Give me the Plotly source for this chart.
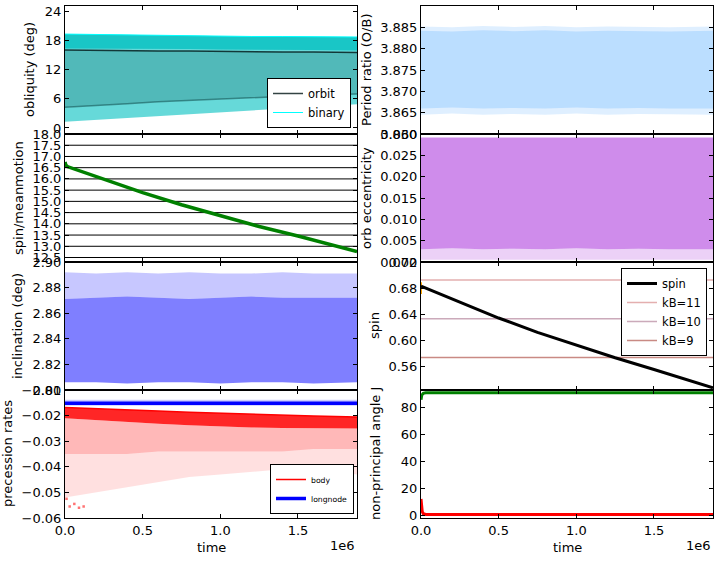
import plotly.graph_objects as go

FONT = "DejaVu Sans"

# ---- data ----
T_END = 1.88e6
T = [0, 2e5, 4e5, 6e5, 8e5, 1.0e6, 1.2e6, 1.4e6, 1.6e6, 1.88e6]
x_ticks = [0, 0.5e6, 1.0e6, 1.5e6]
x_ticktext = ["0.0", "0.5", "1.0", "1.5"]

# obliquity (deg): envelopes of the oscillating clouds
binary_hi = [19.4, 19.3, 19.2, 19.1, 19.0, 19.0, 18.9, 18.9, 18.8, 18.8]
binary_core = [16.4, 16.4, 16.3, 16.3, 16.3, 16.2, 16.2, 16.1, 16.1, 16.0]
binary_lo = [1.3, 1.7, 2.1, 2.5, 2.9, 3.2, 3.6, 4.0, 4.4, 4.9]
orbit_hi = [16.1, 16.0, 16.0, 15.9, 15.9, 15.8, 15.8, 15.7, 15.7, 15.6]
orbit_lo = [4.3, 4.6, 5.0, 5.4, 5.7, 6.0, 6.3, 6.6, 6.8, 7.0]

# spin/meanmotion
sm_t = [0, 5e3, 1.5e4, 2.5e5, 5e5, 7.5e5, 1.0e6, 1.25e6, 1.5e6, 1.75e6, 1.88e6]
sm_v = [16.75, 16.62, 16.55, 15.97, 15.39, 14.85, 14.35, 13.88, 13.46, 13.0, 12.76]
mm_levels = [12.5, 13.0, 13.5, 14.0, 14.5, 15.0, 15.5, 16.0, 16.5, 17.0, 17.5, 18.0]

# inclination (deg)
incl_lo = [2.806, 2.806, 2.805, 2.806, 2.806, 2.805, 2.806, 2.806, 2.805, 2.806]
incl_core = [2.871, 2.872, 2.873, 2.872, 2.871, 2.872, 2.873, 2.872, 2.872, 2.872]
incl_hi = [2.892, 2.891, 2.892, 2.891, 2.892, 2.891, 2.891, 2.892, 2.891, 2.891]

# precession rates
node_mid = [-0.0152, -0.0152, -0.0152, -0.0152, -0.0152, -0.0152, -0.0152, -0.0152, -0.0152, -0.0152]
node_hi = [-0.0138, -0.0138, -0.0138, -0.0138, -0.0138, -0.0138, -0.0138, -0.0138, -0.0138, -0.0138]
node_lo = [-0.0162, -0.0162, -0.0162, -0.0162, -0.0162, -0.0162, -0.0162, -0.0162, -0.0162, -0.0162]
body_hi = [-0.0168, -0.0172, -0.0177, -0.0182, -0.0187, -0.0191, -0.0195, -0.0199, -0.0202, -0.0205]
body_core = [-0.0210, -0.0218, -0.0225, -0.0232, -0.0238, -0.0243, -0.0246, -0.0248, -0.0249, -0.0250]
body_mid = [-0.035, -0.035, -0.035, -0.034, -0.034, -0.034, -0.034, -0.034, -0.033, -0.033]
body_lo = [-0.052, -0.050, -0.048, -0.046, -0.044, -0.043, -0.042, -0.041, -0.041, -0.043]
body_out_t = [1e4, 3e4, 6e4, 9e4, 1.2e5]
body_out_v = [-0.0525, -0.0555, -0.0545, -0.0560, -0.0555]

# period ratio (O/B)
pr_lo = [3.8645, 3.8648, 3.8645, 3.8647, 3.8645, 3.8648, 3.8645, 3.8647, 3.8646, 3.8645]
pr_core_lo = [3.8660, 3.8662, 3.8660, 3.8661, 3.8660, 3.8662, 3.8660, 3.8661, 3.8660, 3.8660]
pr_core_hi = [3.8842, 3.8840, 3.8843, 3.8841, 3.8843, 3.8840, 3.8842, 3.8841, 3.8840, 3.8842]
pr_hi = [3.8852, 3.8850, 3.8853, 3.8851, 3.8853, 3.8850, 3.8852, 3.8851, 3.8850, 3.8852]

# orb eccentricity
ecc_lo = [0.0005, 0.0005, 0.0005, 0.0005, 0.0005, 0.0005, 0.0005, 0.0005, 0.0005, 0.0005]
ecc_core = [0.0030, 0.0032, 0.0030, 0.0031, 0.0030, 0.0032, 0.0030, 0.0031, 0.0030, 0.0030]
ecc_hi = [0.0292, 0.0292, 0.0292, 0.0292, 0.0292, 0.0292, 0.0292, 0.0292, 0.0292, 0.0292]

# spin
spin_t = [0, 2.5e5, 5e5, 7.5e5, 1.0e6, 1.25e6, 1.5e6, 1.75e6, 1.88e6]
spin_v = [0.683, 0.658, 0.634, 0.612, 0.592, 0.573, 0.555, 0.537, 0.527]
spin0_t = [0, 0]
spin0_v = [0.671, 0.689]
kB_names = ["kB=11", "kB=10", "kB=9"]
kB_levels = [0.6922, 0.6328, 0.5735]
kB_colors = ["rgba(205,110,110,0.55)", "rgba(160,100,130,0.55)", "rgba(165,60,50,0.6)"]

# non-principal angle J
jg_t = [0, 5e3, 1.5e4, 3e4, 1.88e6]
jg_v = [86.0, 89.5, 90.8, 91.2, 91.2]
jr_t = [0, 3e3, 8e3, 1.5e4, 3e4, 1.88e6]
jr_v = [12.0, 6.0, 2.5, 1.0, 0.4, 0.4]

fig = go.Figure()


def ax(n):
    return ("x" if n == 1 else "x%d" % n), ("y" if n == 1 else "y%d" % n)


def band(t, lo, hi, color, n):
    xa, ya = ax(n)
    fig.add_trace(go.Scatter(x=t, y=lo, mode="lines", line=dict(width=0, color=color),
                             showlegend=False, hoverinfo="skip", xaxis=xa, yaxis=ya))
    fig.add_trace(go.Scatter(x=t, y=hi, mode="lines", line=dict(width=0, color=color),
                             fill="tonexty", fillcolor=color, showlegend=False,
                             hoverinfo="skip", xaxis=xa, yaxis=ya))


def line(t, v, color, width, n, name=None, legend=None, rank=None):
    xa, ya = ax(n)
    fig.add_trace(go.Scatter(x=t, y=v, mode="lines", line=dict(color=color, width=width),
                             name=name, showlegend=name is not None, legend=legend,
                             legendrank=rank if rank else 1000, xaxis=xa, yaxis=ya))


# panel 1: obliquity
band(T, binary_lo, binary_hi, "rgba(0,191,191,0.6)", 1)
band(T, orbit_lo, orbit_hi, "rgba(0,60,60,0.2)", 1)
band(T, binary_core, binary_hi, "rgba(0,191,191,0.75)", 1)
line(T, orbit_lo, "rgba(0,50,50,0.45)", 1.5, 1)
line(T, orbit_hi, "rgba(0,20,20,0.8)", 1.5, 1, "orbit", "legend", 1)
line(T, binary_hi, "cyan", 1, 1, "binary", "legend", 2)

# panel 2: spin/meanmotion
lx, ly = [], []
for lev in mm_levels:
    lx += [0, T_END, None]
    ly += [lev, lev, None]
line(lx, ly, "black", 1, 2)
line(sm_t, sm_v, "green", 3.5, 2)

# panel 3: inclination
band(T, incl_lo, incl_core, "rgba(0,0,255,0.5)", 3)
band(T, incl_core, incl_hi, "rgba(0,0,255,0.22)", 3)

# panel 4: precession rates
band(T, body_lo, body_mid, "rgba(255,0,0,0.12)", 4)
band(T, body_mid, body_core, "rgba(255,0,0,0.28)", 4)
band(T, body_core, body_hi, "rgba(255,0,0,0.85)", 4)
fig.add_trace(go.Scatter(x=body_out_t, y=body_out_v, mode="markers",
                         marker=dict(color="rgba(255,0,0,0.55)", size=2.5, symbol="square",
                                     line=dict(width=0)),
                         showlegend=False, xaxis="x4", yaxis="y4"))
band(T, node_lo, node_hi, "rgba(0,0,255,0.2)", 4)
line(T, body_hi, "red", 1.5, 4, "body", "legend2", 1)
line(T, node_mid, "blue", 3.5, 4, "longnode", "legend2", 2)

# panel 5: period ratio
band(T, pr_lo, pr_hi, "rgba(30,144,255,0.14)", 5)
band(T, pr_core_lo, pr_core_hi, "rgba(30,144,255,0.18)", 5)

# panel 6: eccentricity
band(T, ecc_lo, ecc_core, "rgba(148,0,211,0.18)", 6)
band(T, ecc_core, ecc_hi, "rgba(148,0,211,0.45)", 6)

# panel 7: spin
for name, lev, col, r in zip(kB_names, kB_levels, kB_colors, [2, 3, 4]):
    line([0, T_END], [lev, lev], col, 1.5, 7, name, "legend3", r)
line(spin0_t, spin0_v, "orange", 2, 7)
line(spin_t, spin_v, "black", 3, 7, "spin", "legend3", 1)

# panel 8: non-principal angle J
line(jg_t, jg_v, "green", 3, 8)
line(jr_t, jr_v, "red", 3, 8)

# ---- layout ----
W, H = 720, 576
xdom = [[65 / W, 357 / W], [421 / W, 713 / W]]
rows_px = [(6, 134), (134, 262), (262, 390), (390, 518)]
ydom = [[1 - b / H, 1 - t / H] for t, b in rows_px]

y_ranges = [[-1.25, 25.2], [12.3, 18.0], [2.80, 2.90], [-0.06, -0.01],
            [3.860, 3.890], [0.0, 0.030], [0.5235, 0.72], [-2.2, 93.3]]
y_tickvals = [[0, 6, 12, 18, 24], mm_levels, [2.80, 2.82, 2.84, 2.86, 2.88, 2.90],
              [-0.06, -0.05, -0.04, -0.03, -0.02, -0.01],
              [3.860, 3.865, 3.870, 3.875, 3.880, 3.885, 3.890],
              [0.000, 0.005, 0.010, 0.015, 0.020, 0.025, 0.030],
              [0.56, 0.60, 0.64, 0.68, 0.72], [0, 20, 40, 60, 80]]
y_formats = ["d", ".1f", ".2f", ".2f", ".3f", ".3f", ".2f", "d"]
y_labels = ["obliquity (deg)", "spin/meanmotion", "inclination (deg)", "precession rates",
            "Period ratio (O/B)", "orb eccentricity", "spin", "non-principal angle J"]
label_x = [29, 18, 17, 7, 366, 366, 374, 375]

common = dict(showline=True, linecolor="black", linewidth=1, mirror="ticks",
              ticks="inside", ticklen=4, tickwidth=1, tickcolor="black",
              showgrid=False, zeroline=False, automargin=False,
              tickfont=dict(family=FONT, size=13, color="black"))

layout = {}
annotations = []
for i in range(8):
    n = i + 1
    col, row = i // 4, i % 4
    key = "" if n == 1 else str(n)
    xa, ya = ax(n)
    layout["xaxis" + key] = dict(common, domain=xdom[col], anchor=ya, range=[0, T_END],
                                 tickvals=x_ticks, ticktext=x_ticktext,
                                 showticklabels=(row == 3))
    layout["yaxis" + key] = dict(common, domain=ydom[row], anchor=xa, range=y_ranges[i],
                                 tickvals=y_tickvals[i], tickformat=y_formats[i])
    t, b = rows_px[row]
    annotations.append(dict(text=y_labels[i], x=label_x[i] / W, y=1 - (t + b) / 2 / H,
                            xref="paper", yref="paper", textangle=-90, showarrow=False,
                            xanchor="center", yanchor="middle",
                            font=dict(family=FONT, size=13, color="black")))

for col in range(2):
    x0, x1 = xdom[col]
    annotations.append(dict(text="time", x=(x0 + x1) / 2, y=1 - 547 / H, xref="paper",
                            yref="paper", showarrow=False, xanchor="center",
                            yanchor="middle", font=dict(family=FONT, size=13, color="black")))
    annotations.append(dict(text="1e6", x=x1, y=1 - 545 / H, xref="paper", yref="paper",
                            showarrow=False, xanchor="right", yanchor="middle",
                            font=dict(family=FONT, size=13, color="black")))

leg = dict(bgcolor="white", bordercolor="black", borderwidth=1, itemwidth=30,
           tracegroupgap=0, traceorder="normal")
fig.update_layout(
    width=W, height=H, margin=dict(l=0, r=0, t=0, b=0, autoexpand=False),
    paper_bgcolor="white", plot_bgcolor="white",
    font=dict(family=FONT, size=13, color="black"),
    annotations=annotations,
    legend=dict(leg, x=351 / W, y=1 - 128 / H, xanchor="right", yanchor="bottom",
                font=dict(family=FONT, size=11.5, color="black")),
    legend2=dict(leg, x=354 / W, y=1 - 514 / H, xanchor="right", yanchor="bottom",
                 font=dict(family=FONT, size=7.7, color="black")),
    legend3=dict(leg, x=707 / W, y=1 - 268 / H, xanchor="right", yanchor="top",
                 font=dict(family=FONT, size=11.5, color="black")),
    **layout,
)

# the page's default body margin would shift the 720x576 figure out of the window
fig.write_html("out.html", config={"displayModeBar": False},
               post_script="document.body.style.margin = '0px';")
